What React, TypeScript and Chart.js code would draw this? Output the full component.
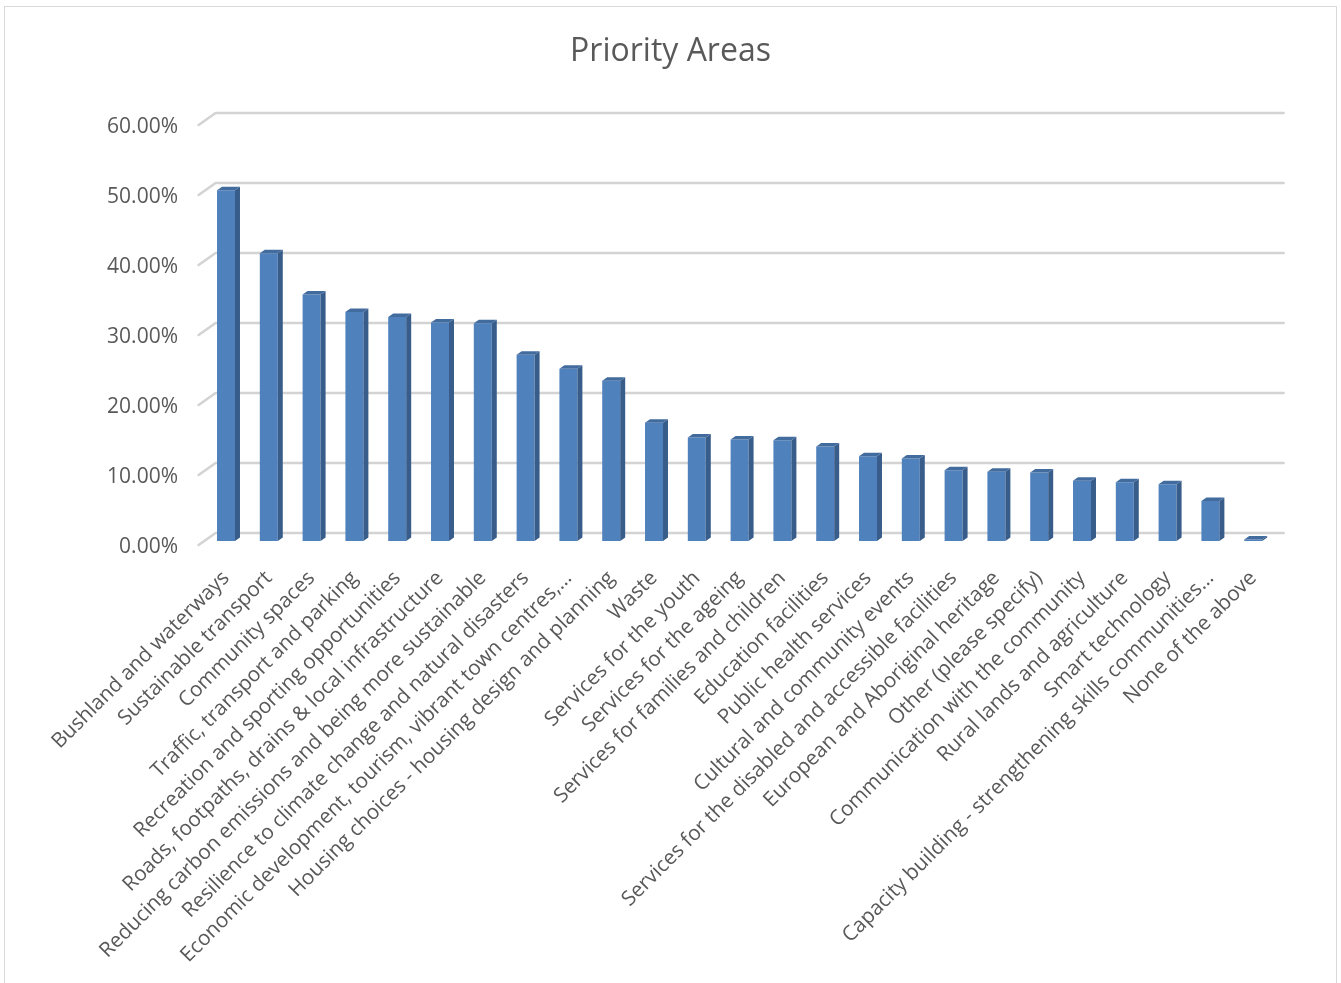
import React, { useEffect, useRef } from "react";
import { Chart, registerables } from "chart.js";

Chart.register(...registerables);

const TITLE = "Priority Areas";

const categories: string[] = [
  "Bushland and waterways",
  "Sustainable transport",
  "Community spaces",
  "Traffic, transport and parking",
  "Recreation and sporting opportunities",
  "Roads, footpaths, drains & local infrastructure",
  "Reducing carbon emissions and being more sustainable",
  "Resilience to climate change and natural disasters",
  "Economic development, tourism, vibrant town centres,…",
  "Housing choices - housing design and planning",
  "Waste",
  "Services for the youth",
  "Services for the ageing",
  "Services for families and children",
  "Education facilities",
  "Public health services",
  "Cultural and community events",
  "Services for the disabled and accessible facilities",
  "European and Aboriginal heritage",
  "Other (please specify)",
  "Communication with the community",
  "Rural lands and agriculture",
  "Smart technology",
  "Capacity building - strengthening skills communities…",
  "None of the above",
];

const values: number[] = [
  50.1, 41.1, 35.2, 32.7, 32.0, 31.2, 31.1, 26.6, 24.6, 22.9, 16.9, 14.8, 14.5,
  14.4, 13.5, 12.1, 11.8, 10.1, 9.9, 9.8, 8.6, 8.4, 8.1, 5.7, 0.2,
];

const yTicks: number[] = [0, 10, 20, 30, 40, 50, 60];

const W = 1341;
const H = 983;
const TEXT = "#595959";
const GRID = "#d3d3d3";
const FRONT = "#4f81bd";
const SIDE = "#385d8a";
const TOP = "#426b9e";
const DEPTH_X = 17;
const DEPTH_Y = 12;

const frame3d = {
  id: "frame3d",
  beforeDraw(chart: any) {
    const ctx = chart.ctx;
    ctx.save();
    ctx.fillStyle = "#ffffff";
    ctx.fillRect(0, 0, W, H);
    ctx.strokeStyle = "#d9d9d9";
    ctx.lineWidth = 1;
    ctx.strokeRect(4.5, 6.5, 1332, H + 10);
    // title
    ctx.fillStyle = TEXT;
    ctx.font = '32px "Open Sans"';
    ctx.textAlign = "center";
    ctx.textBaseline = "middle";
    ctx.fillText(TITLE, W / 2, 52);
    ctx.restore();
  },
  beforeDatasetsDraw(chart: any) {
    const ctx = chart.ctx;
    const y = chart.scales.y;
    const area = chart.chartArea;
    ctx.save();
    ctx.strokeStyle = GRID;
    ctx.lineWidth = 2.6;
    ctx.lineCap = "round";
    ctx.lineJoin = "round";
    yTicks.forEach((v) => {
      const fy = y.getPixelForValue(v) + 4;
      const fx = area.left - 6;
      ctx.beginPath();
      ctx.moveTo(fx, fy);
      ctx.lineTo(fx + DEPTH_X, fy - DEPTH_Y);
      ctx.lineTo(area.right + 9, fy - DEPTH_Y);
      ctx.stroke();
    });
    ctx.restore();
  },
  afterDatasetsDraw(chart: any) {
    const ctx = chart.ctx;
    const meta = chart.getDatasetMeta(0);
    const dx = 5;
    const dy = 3.5;
    ctx.save();
    meta.data.forEach((bar: any) => {
      const { x, y, base, width } = bar.getProps(["x", "y", "base", "width"], true);
      const l = x - width / 2;
      const r = x + width / 2;
      // side
      ctx.fillStyle = SIDE;
      ctx.beginPath();
      ctx.moveTo(r, y);
      ctx.lineTo(r + dx, y - dy);
      ctx.lineTo(r + dx, base - dy);
      ctx.lineTo(r, base);
      ctx.closePath();
      ctx.fill();
      // top
      ctx.fillStyle = TOP;
      ctx.beginPath();
      ctx.moveTo(l, y);
      ctx.lineTo(r, y);
      ctx.lineTo(r + dx, y - dy);
      ctx.lineTo(l + dx, y - dy);
      ctx.closePath();
      ctx.fill();
    });
    ctx.restore();
  },
};

export default function App() {
  const ref = useRef<HTMLCanvasElement | null>(null);

  useEffect(() => {
    let chart: Chart | null = null;
    let cancelled = false;
    const make = () => {
      if (cancelled || !ref.current) return;
      chart = new Chart(ref.current, {
        type: "bar",
        data: {
          labels: categories,
          datasets: [
            {
              data: values,
              backgroundColor: FRONT,
              borderWidth: 0,
              barPercentage: 0.42,
              categoryPercentage: 1,
            },
          ],
        },
        options: {
          responsive: false,
          animation: false,
          events: [],
          layout: { padding: { top: 121, right: 66.4, left: 0, bottom: 0 } },
          plugins: {
            legend: { display: false },
            title: { display: false },
            tooltip: { enabled: false },
          },
          scales: {
            x: {
              grid: { display: false, drawTicks: false },
              border: { display: false },
              ticks: {
                autoSkip: false,
                minRotation: 45,
                maxRotation: 45,
                color: TEXT,
                padding: 25,
                font: { family: "Open Sans", size: 20.7 },
              },
              afterFit: (scale: any) => {
                scale.height = H - 541;
              },
            },
            y: {
              min: 0,
              max: 60,
              grid: { display: false, drawTicks: false },
              border: { display: false },
              ticks: {
                stepSize: 10,
                color: TEXT,
                padding: 26.6,
                labelOffset: 6,
                font: { family: "Open Sans", size: 21 },
                callback: (v: any) => Number(v).toFixed(2) + "%",
              },
              afterFit: (scale: any) => {
                scale.width = 204.6;
              },
            },
          },
        },
        plugins: [frame3d],
      });
    };
    const fonts: any = (document as any).fonts;
    if (fonts && fonts.load) {
      Promise.all([
        fonts.load('20px "Open Sans"'),
        fonts.load('32px "Open Sans"'),
      ])
        .catch(() => {})
        .then(make);
    } else {
      make();
    }
    return () => {
      cancelled = true;
      if (chart) chart.destroy();
    };
  }, []);

  return (
    <div style={{ position: "fixed", left: 0, top: 0, width: W, height: H, background: "#fff" }}>
      <canvas ref={ref} width={W} height={H} style={{ display: "block" }} />
    </div>
  );
}
